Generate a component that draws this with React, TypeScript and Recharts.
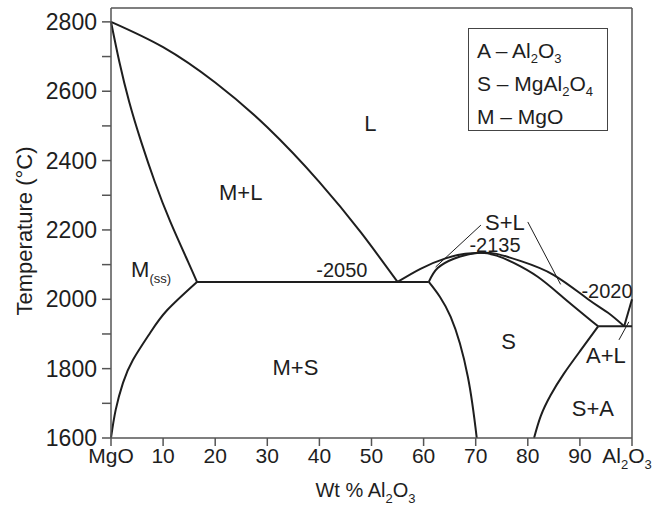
import React from "react";
import {
  ComposedChart,
  Line,
  Scatter,
  XAxis,
  YAxis,
  ReferenceLine,
  Label,
} from "recharts";

// phase boundaries: x = wt % Al2O3, t = temperature in °C
const liquidusMgO = [
  { x: 0, t: 2800 },
  { x: 10, t: 2727 },
  { x: 20, t: 2625 },
  { x: 30, t: 2496 },
  { x: 40, t: 2338 },
  { x: 48, t: 2192 },
  { x: 55, t: 2050 },
];
const solidusMgO = [
  { x: 0, t: 2800 },
  { x: 1.6, t: 2685 },
  { x: 3.5, t: 2569 },
  { x: 5.8, t: 2454 },
  { x: 8.4, t: 2339 },
  { x: 11.4, t: 2223 },
  { x: 14.8, t: 2108 },
  { x: 16.5, t: 2050 },
];
const solvusMgO = [
  { x: 0, t: 1600 },
  { x: 0.9, t: 1681 },
  { x: 2.3, t: 1759 },
  { x: 4.2, t: 1825 },
  { x: 7.5, t: 1903 },
  { x: 10.8, t: 1969 },
  { x: 16.5, t: 2050 },
];
const eutecticLeft = [
  { x: 16.5, t: 2050 },
  { x: 61, t: 2050 },
];
const liquidusSpinel = [
  { x: 55, t: 2050 },
  { x: 59.4, t: 2088 },
  { x: 64.2, t: 2118 },
  { x: 68, t: 2131 },
  { x: 71, t: 2134 },
  { x: 74, t: 2131 },
  { x: 78.7, t: 2110 },
  { x: 85, t: 2070 },
  { x: 91.5, t: 2001 },
  { x: 95.4, t: 1961 },
  { x: 98.5, t: 1922 },
];
const solidusSpinel = [
  { x: 61, t: 2050 },
  { x: 62.7, t: 2090 },
  { x: 65.8, t: 2117 },
  { x: 68.5, t: 2129 },
  { x: 71, t: 2134 },
  { x: 74, t: 2126 },
  { x: 77.3, t: 2105 },
  { x: 81.9, t: 2065 },
  { x: 86.9, t: 2004 },
  { x: 93.5, t: 1922 },
];
const eutecticRight = [
  { x: 93.5, t: 1922 },
  { x: 100, t: 1922 },
];
const liquidusAl2O3 = [
  { x: 98.5, t: 1922 },
  { x: 100, t: 2000 },
];
const solvusSpinelLeft = [
  { x: 61, t: 2050 },
  { x: 65.2, t: 1949 },
  { x: 68.5, t: 1776 },
  { x: 70.2, t: 1600 },
];
const solvusSpinelRight = [
  { x: 81.2, t: 1600 },
  { x: 82.5, t: 1664 },
  { x: 84.4, t: 1724 },
  { x: 86.9, t: 1785 },
  { x: 90.2, t: 1854 },
  { x: 93.5, t: 1922 },
];

// pointer lines from the labels
const pointerSL1 = [
  { x: 62.3, t: 2093 },
  { x: 71, t: 2214 },
];
const pointerSL2 = [
  { x: 80, t: 2223 },
  { x: 86.3, t: 2043 },
];
const pointerAL = [
  { x: 97.5, t: 1883 },
  { x: 99.4, t: 1935 },
];

// field labels (baseline position)
const fieldLabels = [
  { x: 49.8, t: 2486, text: "L" },
  { x: 24.9, t: 2287, text: "M+L" },
  { x: 7.7, t: 2065, text: "M_{(ss)}" },
  { x: 75.6, t: 2200, text: "S+L" },
  { x: 76.3, t: 1857, text: "S" },
  { x: 95, t: 1816, text: "A+L" },
  { x: 92.5, t: 1664, text: "S+A" },
  { x: 35.4, t: 1782, text: "M+S" },
];
const tempLabels = [
  { x: 44.3, t: 2065, text: "-2050" },
  { x: 73.7, t: 2137, text: "-2135" },
  { x: 95.2, t: 2004, text: "-2020" },
];

const xTicks = [0, 10, 20, 30, 40, 50, 60, 70, 80, 90, 100];
const xTickLabels = ["MgO", "10", "20", "30", "40", "50", "60", "70", "80", "90", "Al_{2}O_{3}"];
const yTicks = [1600, 1700, 1800, 1900, 2000, 2100, 2200, 2300, 2400, 2500, 2600, 2700, 2800];
const yTickLabels = ["1600", "", "1800", "", "2000", "", "2200", "", "2400", "", "2600", "", "2800"];
const keyLines = ["A – Al_{2}O_{3}", "S – MgAl_{2}O_{4}", "M – MgO"];

const FONT = "'Liberation Sans', Arial, sans-serif";
const INK = "#1e1e1e";
const AXIS = "#555";

// "Al_{2}O_{3}" -> tspans with lowered subscripts
function rich(s: string, subSize: number, shift: number) {
  const parts = s.split(/_\{([^}]*)\}/);
  let low = false;
  const out: React.ReactNode[] = [];
  parts.forEach((p, i) => {
    if (!p) return;
    const sub = i % 2 === 1;
    let dy = 0;
    if (sub && !low) {
      dy = shift;
      low = true;
    } else if (!sub && low) {
      dy = -shift;
      low = false;
    }
    out.push(
      <tspan key={i} dy={dy} fontSize={sub ? subSize : undefined}>
        {p}
      </tspan>
    );
  });
  return out;
}

function richHtml(s: string) {
  const parts = s.split(/_\{([^}]*)\}/);
  return parts.map((p, i) =>
    i % 2 === 1 ? (
      <sub key={i} style={{ fontSize: 13, verticalAlign: -5, lineHeight: 0 }}>
        {p}
      </sub>
    ) : (
      <span key={i}>{p}</span>
    )
  );
}

const FieldText = (props: any) => {
  const { cx, cy, payload } = props;
  return (
    <text x={cx} y={cy} textAnchor="middle" fontSize={22} fill={INK} fontFamily={FONT}>
      {rich(payload.text, 13, 6)}
    </text>
  );
};

const TempText = (props: any) => {
  const { cx, cy, payload } = props;
  return (
    <text x={cx} y={cy} textAnchor="middle" fontSize={20} fill={INK} fontFamily={FONT}>
      {payload.text}
    </text>
  );
};

const XTick = (props: any) => {
  const { x, y, payload } = props;
  const label = xTickLabels[xTicks.indexOf(payload.value)] ?? "";
  // last label sits against the page edge, nudge it in
  const nx = payload.value === 100 ? x - 5 : x;
  return (
    <text x={nx} y={y + 15} textAnchor="middle" fontSize={21} fill={INK} fontFamily={FONT}>
      {rich(label, 13, 6)}
    </text>
  );
};

const XTitle = (props: any) => {
  const { viewBox } = props;
  return (
    <text
      x={viewBox.x + viewBox.width / 2 - 6}
      y={viewBox.y + 59}
      textAnchor="middle"
      fontSize={20}
      fill={INK}
      fontFamily={FONT}
    >
      {rich("Wt % Al_{2}O_{3}", 13, 6)}
    </text>
  );
};

const YTitle = (props: any) => {
  const { viewBox } = props;
  const cx = viewBox.x + 13;
  const cy = viewBox.y + viewBox.height / 2 + 8;
  return (
    <text
      x={cx}
      y={cy}
      transform={`rotate(-90 ${cx} ${cy})`}
      textAnchor="middle"
      dominantBaseline="central"
      fontSize={22}
      fill={INK}
      fontFamily={FONT}
    >
      Temperature (°C)
    </text>
  );
};

const curves = [
  liquidusMgO,
  solidusMgO,
  solvusMgO,
  eutecticLeft,
  liquidusSpinel,
  solidusSpinel,
  eutecticRight,
  liquidusAl2O3,
  solvusSpinelLeft,
  solvusSpinelRight,
];
const pointers = [pointerSL1, pointerSL2, pointerAL];

export default function App() {
  return (
    <div style={{ position: "absolute", left: 0, top: 0, width: 655, height: 513, background: "#fff" }}>
      <ComposedChart width={655} height={513} margin={{ top: 8, right: 23, bottom: 15, left: 11 }}>
        <XAxis
          type="number"
          dataKey="x"
          domain={[0, 100]}
          ticks={xTicks}
          interval={0}
          height={60}
          tickSize={8}
          tickMargin={2}
          stroke={AXIS}
          strokeWidth={1.5}
          tick={<XTick />}
        >
          <Label content={<XTitle />} />
        </XAxis>
        <YAxis
          type="number"
          dataKey="t"
          domain={[1600, 2840]}
          ticks={yTicks}
          interval={0}
          width={100}
          tickSize={9}
          tickMargin={5}
          stroke={AXIS}
          strokeWidth={1.5}
          tickFormatter={(v: number) => yTickLabels[yTicks.indexOf(v)] ?? ""}
          tick={{ fontSize: 23, fill: INK, fontFamily: FONT }}
        >
          <Label content={<YTitle />} />
        </YAxis>
        <ReferenceLine y={2840} stroke={AXIS} strokeWidth={1.5} />
        <ReferenceLine x={100} stroke={AXIS} strokeWidth={1.5} />
        {curves.map((c, i) => (
          <Line
            key={"c" + i}
            data={c}
            dataKey="t"
            type="natural"
            stroke={INK}
            strokeWidth={2}
            dot={false}
            activeDot={false}
            isAnimationActive={false}
          />
        ))}
        {pointers.map((c, i) => (
          <Line
            key={"p" + i}
            data={c}
            dataKey="t"
            type="linear"
            stroke={INK}
            strokeWidth={1}
            dot={false}
            activeDot={false}
            isAnimationActive={false}
          />
        ))}
        <Scatter data={fieldLabels} dataKey="t" shape={<FieldText />} isAnimationActive={false} />
        <Scatter data={tempLabels} dataKey="t" shape={<TempText />} isAnimationActive={false} />
      </ComposedChart>
      <div
        style={{
          position: "absolute",
          left: 468,
          top: 28,
          width: 140,
          height: 103,
          border: "1.5px solid #444",
          boxSizing: "border-box",
          padding: "5px 0 0 8px",
          fontFamily: FONT,
          fontSize: 21,
          color: INK,
          lineHeight: "33px",
        }}
      >
        {keyLines.map((k, i) => (
          <div key={i} style={{ whiteSpace: "nowrap" }}>
            {richHtml(k)}
          </div>
        ))}
      </div>
    </div>
  );
}
